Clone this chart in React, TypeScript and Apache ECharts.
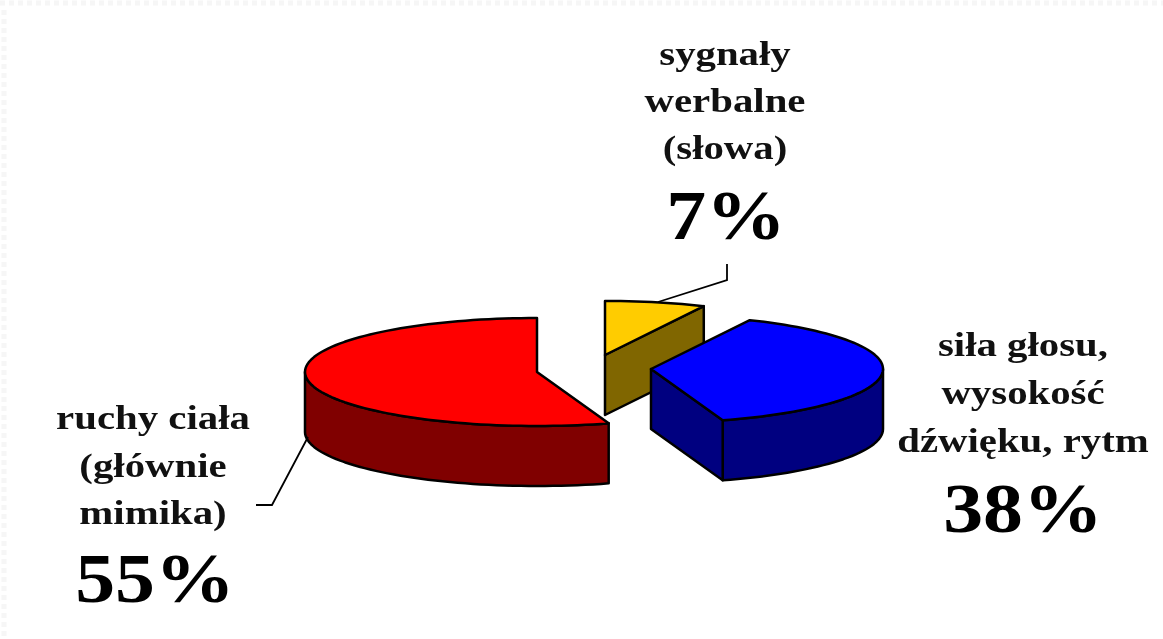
import React, { useEffect, useRef } from "react";
import * as echarts from "echarts";

const categories = ["sygnały werbalne (słowa)", "siła głosu, wysokość dźwięku, rytm", "ruchy ciała (głównie mimika)"];
const shares = [7, 38, 55];
const labelLines = [
  ["sygnały", "werbalne", "(słowa)"],
  ["siła głosu,", "wysokość", "dźwięku, rytm"],
  ["ruchy ciała", "(głównie", "mimika)"],
];

const W = 1163;
const H = 639;
const RX = 232;
const RY = 54;
const DEPTH = 60;
const FONT = "Liberation Serif";
const layout = [
  { cx: 605, cy: 355, top: "#ffcc00", wall: "#806600", lx: 725, ly: [54, 101, 148], px: 726, py: 215,
    leader: [[658, 302], [727, 280], [727, 264]] },
  { cx: 651, cy: 369, top: "#0000ff", wall: "#000080", lx: 1023, ly: [345, 393, 441], px: 1023, py: 508,
    leader: null },
  { cx: 537, cy: 372, top: "#ff0000", wall: "#800000", lx: 153, ly: [418, 466, 513], px: 155, py: 578,
    leader: [[308, 437], [272, 505], [256, 505]] },
];

const total = shares.reduce((a, b) => a + b, 0);

function pt(l: any, deg: number, dy = 0): number[] {
  const r = (deg * Math.PI) / 180;
  return [l.cx + RX * Math.sin(r), l.cy - RY * Math.cos(r) + dy];
}
function arc(l: any, a: number, b: number, dy = 0): number[][] {
  const out: number[][] = [];
  const n = Math.max(2, Math.ceil(Math.abs(b - a) / 2));
  for (let i = 0; i <= n; i++) out.push(pt(l, a + ((b - a) * i) / n, dy));
  return out;
}

const renderItem = (params: any, api: any) => {
  const i = params.dataIndex;
  const l = layout[i];
  const before = shares.slice(0, i).reduce((a, b) => a + b, 0);
  const a = (before / total) * 360;
  const b = a + (api.value(0) / total) * 360;
  const line = { stroke: "#000", lineWidth: 2.5, lineJoin: "round" };
  const children: any[] = [];

  // outer wall: only the part of the rim facing the viewer
  const fa = Math.max(a, 90);
  const fb = Math.min(b, 270);
  if (fb > fa) {
    const upper = arc(l, fa, fb);
    const lower = arc(l, fb, fa, DEPTH);
    children.push({ type: "polygon", shape: { points: [...upper, ...lower] }, style: { fill: l.wall, ...line } });
  }
  // cut face along the slice's end edge
  if (Math.sin((b * Math.PI) / 180) > 0.001) {
    const e = pt(l, b);
    const e2 = pt(l, b, DEPTH);
    children.push({
      type: "polygon",
      shape: { points: [[l.cx, l.cy], e, e2, [l.cx, l.cy + DEPTH]] },
      style: { fill: l.wall, ...line },
    });
  }
  // top face
  children.push({
    type: "polygon",
    shape: { points: [[l.cx, l.cy], ...arc(l, a, b)] },
    style: { fill: l.top, ...line },
  });
  // leader line
  if (l.leader) {
    children.push({
      type: "polyline",
      shape: { points: l.leader },
      style: { fill: "none", stroke: "#000", lineWidth: 1.8 },
    });
  }
  // labels
  labelLines[i].forEach((t, k) => {
    children.push({
      type: "text",
      x: l.lx,
      y: l.ly[k],
      scaleX: 1.2,
      style: {
        text: t,
        fontFamily: FONT,
        fontWeight: "bold",
        fontSize: 34,
        fill: "#111",
        align: "center",
        verticalAlign: "middle",
      },
    });
  });
  children.push({
    type: "text",
    x: l.px,
    y: l.py,
    scaleX: 1.14,
    style: {
      text: `${api.value(0)}%`,
      fontFamily: FONT,
      fontWeight: "bold",
      fontSize: 70,
      fill: "#000",
      align: "center",
      verticalAlign: "middle",
    },
  });
  return { type: "group", children };
};

export default function App() {
  const ref = useRef<HTMLDivElement>(null);
  useEffect(() => {
    document.body.style.margin = "0";
    const chart = echarts.init(ref.current!, null, { renderer: "svg" });
    chart.setOption({
      animation: false,
      backgroundColor: "#ffffff",
      tooltip: { show: false },
      graphic: [
        { type: "line", silent: true, shape: { x1: 0, y1: 3, x2: W, y2: 3 },
          style: { stroke: "#f6f6f6", lineWidth: 5, lineDash: [5, 4] } },
        { type: "line", silent: true, shape: { x1: 4, y1: 10, x2: 4, y2: H },
          style: { stroke: "#f6f6f6", lineWidth: 5, lineDash: [5, 4] } },
      ],
      series: [
        {
          type: "custom",
          coordinateSystem: "none",
          name: "udział",
          silent: true,
          data: shares.map((v, i) => ({ name: categories[i], value: [v] })),
          renderItem,
        },
      ],
    });
    return () => chart.dispose();
  }, []);
  return <div ref={ref} style={{ width: W, height: H, filter: "blur(0.6px)" }} />;
}
